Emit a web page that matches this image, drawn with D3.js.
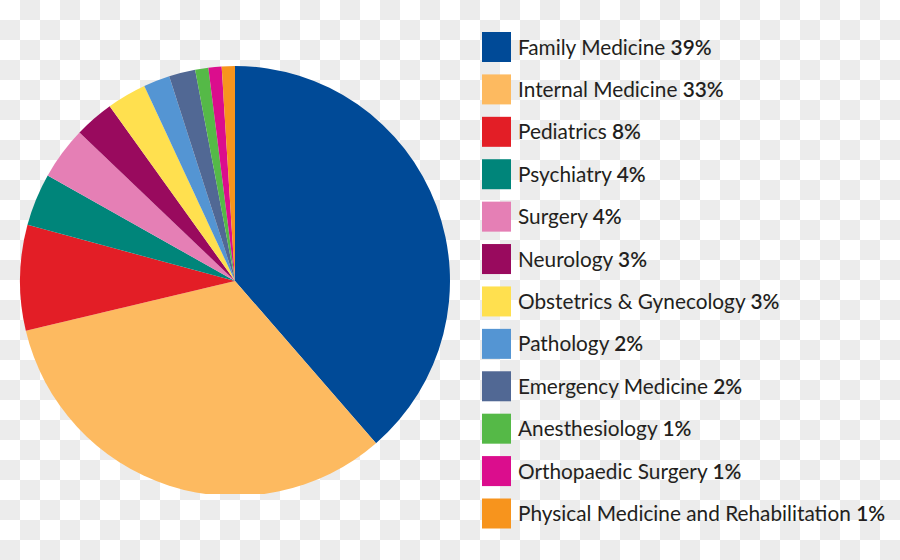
<!DOCTYPE html>
<html>
<head>
<meta charset="utf-8">
<script src="https://cdn.jsdelivr.net/npm/d3@7"></script>
<style>
  html, body { margin: 0; padding: 0; background: #fff; }
  svg { display: block; }
</style>
</head>
<body>
<svg id="chart" width="900" height="560"></svg>
<script>
const categories = ["Family Medicine", "Internal Medicine", "Pediatrics", "Psychiatry", "Surgery", "Neurology",
  "Obstetrics & Gynecology", "Pathology", "Emergency Medicine", "Anesthesiology", "Orthopaedic Surgery",
  "Physical Medicine and Rehabilitation"];
const values = [39, 33, 8, 4, 4, 3, 3, 2, 2, 1, 1, 1];
const colors = ["#004a97", "#fdba60", "#e31e26", "#00857a", "#e57fb5", "#990a5e",
  "#ffe04f", "#5495d3", "#516894", "#55b947", "#db0d8d", "#f7941d"];

const svg = d3.select("#chart");
const W = 900, H = 560;

// checkerboard background (transparency pattern)
const defs = svg.append("defs");
const pat = defs.append("pattern").attr("id", "checker").attr("width", 40).attr("height", 40)
  .attr("patternUnits", "userSpaceOnUse");
pat.append("rect").attr("width", 40).attr("height", 40).attr("fill", "#ffffff");
pat.append("rect").attr("x", 20).attr("y", 0).attr("width", 20).attr("height", 20).attr("fill", "#ececec");
pat.append("rect").attr("x", 0).attr("y", 20).attr("width", 20).attr("height", 20).attr("fill", "#ececec");
svg.append("rect").attr("width", W).attr("height", H).attr("fill", "url(#checker)");

defs.append("clipPath").attr("id", "pieclip")
  .append("rect").attr("x", 0).attr("y", 0).attr("width", 460).attr("height", 494);

const cx = 235, cy = 281, r = 215;
const pie = d3.pie().sort(null).value(d => d);
const arc = d3.arc().innerRadius(0).outerRadius(r);
const color = d3.scaleOrdinal().domain(categories).range(colors);

const g = svg.append("g").attr("clip-path", "url(#pieclip)")
  .append("g").attr("transform", `translate(${cx},${cy})`);
g.selectAll("path").data(pie(values)).join("path")
  .attr("d", arc)
  .attr("fill", (d, i) => color(categories[i]));

// legend
const y = d3.scalePoint().domain(categories).range([47, 513.5]);
const leg = svg.append("g");
const row = leg.selectAll("g").data(categories).join("g")
  .attr("transform", d => `translate(0,${y(d)})`);
row.append("rect").attr("x", 482).attr("y", -15).attr("width", 29).attr("height", 30)
  .attr("fill", d => color(d));
const txt = row.append("text").attr("x", 518).attr("y", 7.5)
  .attr("font-family", "Lato, 'Open Sans', sans-serif").attr("font-size", 20.8).attr("fill", "#231f20");
txt.append("tspan").attr("font-weight", 400).text(d => d + " ");
txt.append("tspan").attr("font-weight", 600)
  .text((d, i) => values[i] + "%");
</script>
</body>
</html>
